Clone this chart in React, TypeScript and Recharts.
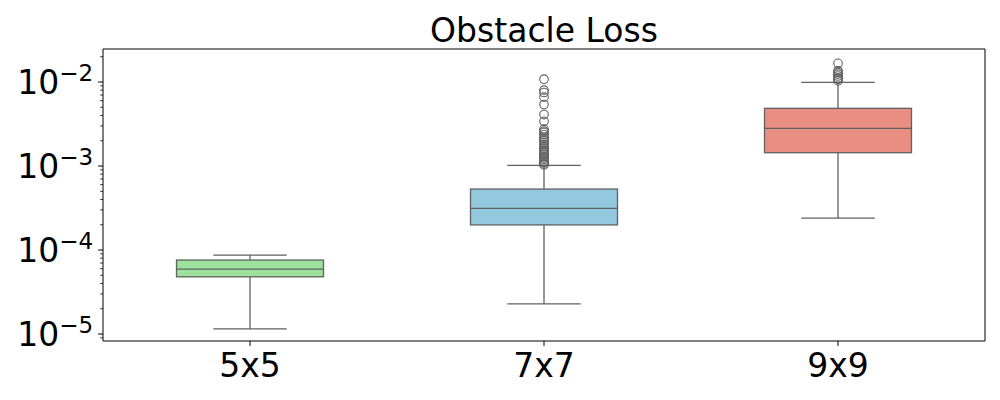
import { ComposedChart, Bar, XAxis, YAxis, CartesianGrid } from "recharts";

// values
const categories = ["5x5", "7x7", "9x9"];
const whiskerLow = [1.15e-5, 2.28e-5, 2.4e-4];
const q1 = [4.8e-5, 1.99e-4, 1.44e-3];
const median = [5.94e-5, 3.13e-4, 2.81e-3];
const q3 = [7.6e-5, 5.32e-4, 4.86e-3];
const whiskerHigh = [8.7e-5, 1.02e-3, 9.9e-3];
const outliers5x5: number[] = [];
const outliers7x7 = [
  1.08e-2, 8.0e-3, 7.5e-3, 6.6e-3, 5.4e-3, 4.1e-3, 3.4e-3, 2.75e-3, 2.6e-3,
  2.5e-3, 2.35e-3, 2.2e-3, 2.1e-3, 2.0e-3, 1.9e-3, 1.8e-3, 1.7e-3, 1.62e-3,
  1.55e-3, 1.48e-3, 1.42e-3, 1.36e-3, 1.3e-3, 1.25e-3, 1.2e-3, 1.15e-3,
  1.1e-3, 1.06e-3, 1.03e-3,
];
const outliers9x9 = [1.67e-2, 1.36e-2, 1.3e-2, 1.24e-2, 1.18e-2, 1.12e-2, 1.08e-2, 1.03e-2];
const yDomain = [-5.083, -1.607];

const FONT = "DejaVu Sans";
const fills = ["#9ce29c", "#93c9de", "#e98e83"];
const lineColor = "#616161";

const lg = (v: number) => Math.log10(v);
const outliers = [outliers5x5, outliers7x7, outliers9x9];

const data = categories.map((name, i) => ({
  name,
  range: [lg(whiskerLow[i]), lg(whiskerHigh[i])],
  q1: lg(q1[i]),
  med: lg(median[i]),
  q3: lg(q3[i]),
  out: outliers[i].map(lg),
}));

// major ticks at decades, minor ticks at 2..9 x decade
const yTicks: number[] = [];
for (let n = -6; n <= -2; n++) {
  for (let k = 1; k <= 9; k++) {
    const v = Math.log10(k) + n;
    if (v >= yDomain[0] && v <= yDomain[1]) yTicks.push(v);
  }
}

function BoxShape(props: any) {
  const { x, y, width, height, payload, index } = props;
  const [lo, hi] = payload.range;
  const top = Math.min(y, y + height);
  const h = Math.abs(height);
  const py = (v: number) => top + ((hi - v) / (hi - lo)) * h;
  const cx = x + width / 2;
  const cap = width / 4;
  const sw = 1.3;
  return (
    <g>
      <line x1={cx} x2={cx} y1={py(hi)} y2={py(payload.q3)} stroke={lineColor} strokeWidth={sw} />
      <line x1={cx} x2={cx} y1={py(payload.q1)} y2={py(lo)} stroke={lineColor} strokeWidth={sw} />
      <line x1={cx - cap} x2={cx + cap} y1={py(hi)} y2={py(hi)} stroke={lineColor} strokeWidth={sw} />
      <line x1={cx - cap} x2={cx + cap} y1={py(lo)} y2={py(lo)} stroke={lineColor} strokeWidth={sw} />
      <rect
        x={x}
        y={py(payload.q3)}
        width={width}
        height={py(payload.q1) - py(payload.q3)}
        fill={fills[index]}
        stroke={lineColor}
        strokeWidth={sw}
      />
      <line x1={x} x2={x + width} y1={py(payload.med)} y2={py(payload.med)} stroke={lineColor} strokeWidth={sw} />
      {payload.out.map((v: number, j: number) => (
        <circle key={j} cx={cx} cy={py(v)} r={4.3} fill="none" stroke={lineColor} strokeWidth={1.1} />
      ))}
    </g>
  );
}

function YTick({ x, y, payload }: any) {
  const v = payload.value;
  const major = Math.abs(v - Math.round(v)) < 1e-6;
  if (!major) {
    return <line x1={x - 2.8} x2={x} y1={y} y2={y} stroke="#000" strokeWidth={0.8} />;
  }
  return (
    <g>
      <line x1={x - 4.9} x2={x} y1={y} y2={y} stroke="#000" strokeWidth={1} />
      <text x={x - 9.8} y={y + 12} textAnchor="end" fontFamily={FONT} fontSize={33} fill="#000">
        <tspan>10</tspan>
        <tspan dy={-13} fontSize={23}>{"\u2212" + -Math.round(v)}</tspan>
      </text>
    </g>
  );
}

function XTick({ x, y, payload }: any) {
  return (
    <g>
      <line x1={x} x2={x} y1={y} y2={y + 4.9} stroke="#000" strokeWidth={1} />
      <text x={x} y={y + 36} textAnchor="middle" fontFamily={FONT} fontSize={33} fill="#000">
        {payload.value}
      </text>
    </g>
  );
}

export default function App() {
  return (
    <div style={{ position: "absolute", left: 0, top: 0, width: 1000, height: 400, background: "#fff" }}>
      <ComposedChart
        width={1000}
        height={400}
        data={data}
        margin={{ top: 49, right: 15, bottom: 0, left: 0 }}
        barCategoryGap="25%"
      >
        {/* top and right spines */}
        <CartesianGrid
          stroke="#000"
          strokeWidth={1}
          horizontalCoordinatesGenerator={({ offset }: any) => [offset.top]}
          verticalCoordinatesGenerator={({ offset }: any) => [offset.left + offset.width]}
        />
        <XAxis
          dataKey="name"
          tick={<XTick />}
          tickSize={0}
          tickMargin={0}
          tickLine={false}
          axisLine={{ stroke: "#000", strokeWidth: 1 }}
          height={59}
          interval={0}
        />
        <YAxis
          type="number"
          domain={yDomain}
          allowDataOverflow
          ticks={yTicks}
          interval={0}
          tick={<YTick />}
          tickSize={0}
          tickMargin={0}
          tickLine={false}
          width={103}
          axisLine={{ stroke: "#000", strokeWidth: 1 }}
        />
        <Bar dataKey="range" shape={<BoxShape />} isAnimationActive={false} />
      </ComposedChart>
      <svg width={1000} height={60} style={{ position: "absolute", left: 0, top: 0, pointerEvents: "none" }}>
        <text x={544} y={42} textAnchor="middle" fontFamily={FONT} fontSize={33} fill="#000">
          Obstacle Loss
        </text>
      </svg>
    </div>
  );
}
